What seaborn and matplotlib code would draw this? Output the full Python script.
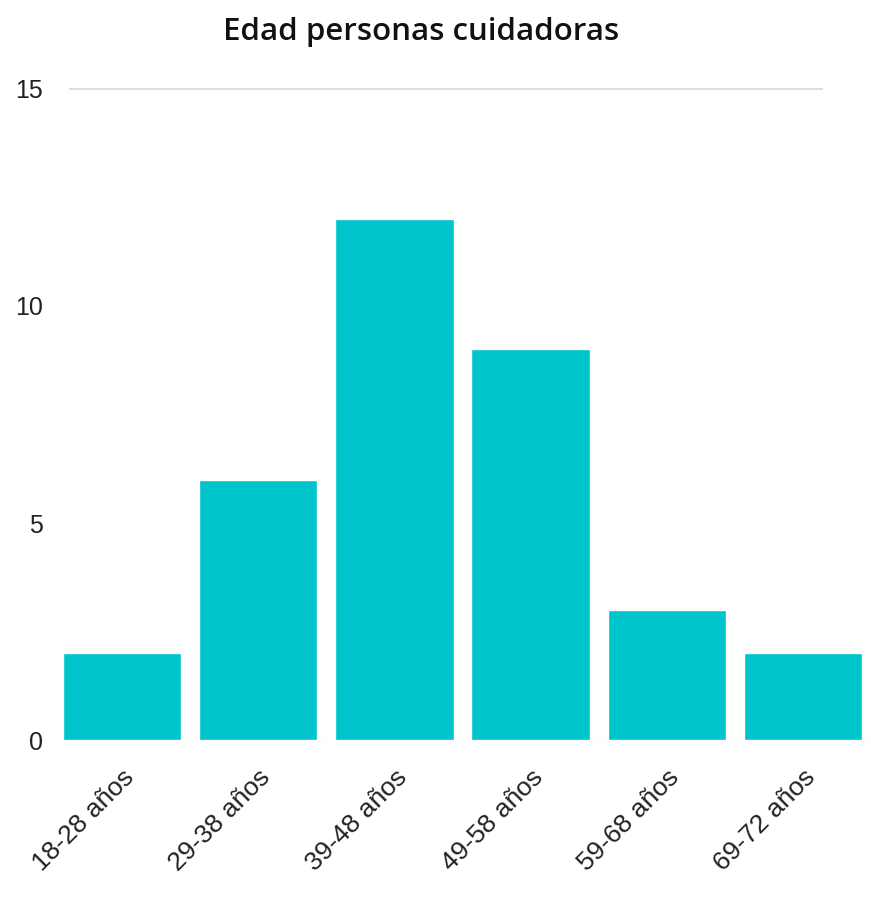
import matplotlib
matplotlib.use("Agg")
import matplotlib.pyplot as plt
import seaborn as sns
import pandas as pd

categories = ["18-28 años", "29-38 años", "39-48 años", "49-58 años", "59-68 años", "69-72 años"]
values = [2, 6, 12, 9, 3, 2]
yticks = [0, 5, 10, 15]
title = "Edad personas cuidadoras"

sns.set_style("white")
plt.rcParams['font.family'] = ['Liberation Sans', 'DejaVu Sans']

df = pd.DataFrame({"cat": categories, "val": values})
fig = plt.figure(figsize=(8.71, 9.06), dpi=100)
ax = fig.add_axes([0.062, 0.183, 0.938, 0.719])
sns.barplot(data=df, x="cat", y="val", color="#00C4CC", saturation=1, width=0.87, ax=ax)
ax.set_ylim(0, 15)
ax.set_yticks(yticks)
ax.set_yticklabels([str(t) for t in yticks], fontsize=18, color="#222222")
ax.set_xlabel("")
ax.set_ylabel("")
for lab in ax.get_xticklabels():
    lab.set_rotation(45)
    lab.set_ha("right")
    lab.set_va("top")
    lab.set_rotation_mode("anchor")
    lab.set_fontsize(19)
    lab.set_color("#222222")
ax.tick_params(axis="x", length=0, pad=18)
ax.tick_params(axis="y", length=0, pad=8)
for s in ax.spines.values():
    s.set_visible(False)
ax.axhline(yticks[-1], xmin=0.02, xmax=0.94, color="#dddddd", lw=1.5, clip_on=False)
ax.axhline(yticks[0], color="#e6e6e6", lw=1, zorder=0)
fig.text(0.483, 0.965, title, ha="center", va="center", fontsize=22.5,
         fontfamily=["Open Sans", "DejaVu Sans"], fontweight="semibold", color="#111111")
fig.savefig("out.png", dpi=100)
